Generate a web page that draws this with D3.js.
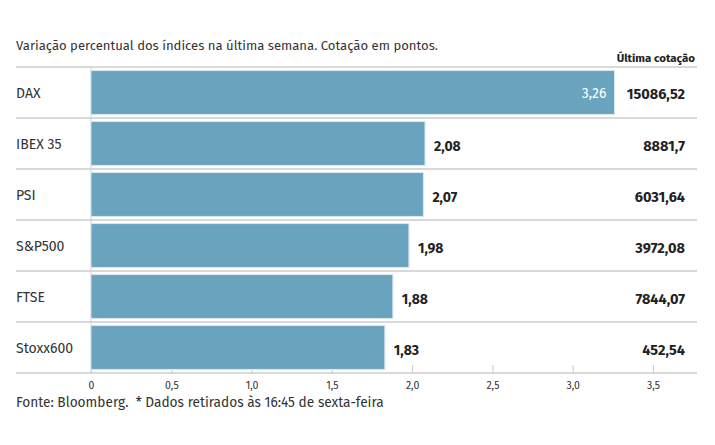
<!DOCTYPE html>
<html>
<head>
  <meta charset="utf-8">
  <script src="https://cdn.jsdelivr.net/npm/d3@7"></script>
  <style>
    body { margin: 0; background: #fff; }
    svg text { font-family: "Fira Sans", "Noto Sans", sans-serif; }
  </style>
</head>
<body>
<div id="chart"></div>
<script>
  var indices = ['DAX', 'IBEX 35', 'PSI', 'S&P500', 'FTSE', 'Stoxx600'];
  var variacao = [3.26, 2.08, 2.07, 1.98, 1.88, 1.83];
  var cotacao = ['15086,52', '8881,7', '6031,64', '3972,08', '7844,07', '452,54'];
  var ticks = [0, 0.5, 1.0, 1.5, 2.0, 2.5, 3.0, 3.5];

  var width = 715, height = 445;
  var fmt = function(v){ return d3.format('.2f')(v).replace('.', ','); };
  var tickFmt = function(v){ return v === 0 ? '0' : d3.format('.1f')(v).replace('.', ','); };

  var svg = d3.select('#chart').append('svg')
    .attr('width', width).attr('height', height);

  var x = d3.scaleLinear().domain([0, 3.5]).range([91, 653]);
  var y = d3.scaleBand().domain(indices).range([67, 373]).paddingInner(0.14).paddingOuter(0.07);
  var step = y.step();

  // title
  svg.append('text').attr('x', 16).attr('y', 50)
    .style('font-size', '13.1px').style('fill', '#333')
    .text('Variação percentual dos índices na última semana. Cotação em pontos.');

  svg.append('text').attr('x', 695).attr('y', 62).attr('text-anchor', 'end')
    .style('font-size', '11.5px').style('font-weight', 'bold').style('fill', '#222')
    .text('Última cotação');

  // row separators
  svg.selectAll('line.sep').data(d3.range(indices.length))
    .enter().append('line')
    .attr('x1', 16).attr('x2', 697)
    .attr('y1', function(i){ return 67 + i * step; })
    .attr('y2', function(i){ return 67 + i * step; })
    .style('stroke', '#ccc').style('stroke-width', 1.5);

  // zero line
  svg.append('line').attr('x1', x(0)).attr('x2', x(0)).attr('y1', 67).attr('y2', 373)
    .style('stroke', '#ccc');

  // axis
  var axis = svg.append('g').attr('transform', 'translate(0,373)')
    .call(d3.axisBottom(x).tickValues(ticks).tickFormat(tickFmt).tickSize(0).tickPadding(9));
  axis.select('.domain').remove();
  axis.selectAll('text').style('font-size', '10.5px').style('fill', '#333')
    .style('font-family', '"Fira Sans", "Noto Sans", sans-serif');
  axis.selectAll('.tick').append('line').attr('y1', -8).attr('y2', 0).style('stroke', '#ccc');
  svg.append('line').attr('x1', 16).attr('x2', 697).attr('y1', 373).attr('y2', 373)
    .style('stroke', '#ccc').style('stroke-width', 1.5);

  // bars
  var rows = svg.selectAll('g.row').data(indices).enter().append('g');

  rows.append('rect')
    .attr('x', x(0))
    .attr('y', function(d){ return y(d); })
    .attr('width', function(d, i){ return x(variacao[i]) - x(0); })
    .attr('height', y.bandwidth())
    .style('fill', '#6aa3be')
    .style('stroke', '#d8e8ef').style('stroke-width', 1);

  rows.append('text')
    .attr('x', 16)
    .attr('y', function(d){ return y(d) + y.bandwidth() / 2 + 1; })
    .attr('dy', '0.35em')
    .style('font-size', '14px').style('fill', '#333')
    .text(function(d){ return d; });

  rows.append('text')
    .attr('x', function(d, i){ return i === 0 ? x(variacao[i]) - 8 : x(variacao[i]) + 9; })
    .attr('y', function(d, i){ return y(d) + y.bandwidth() / 2 + (i === 0 ? 1 : 3); })
    .attr('dy', '0.35em')
    .attr('text-anchor', function(d, i){ return i === 0 ? 'end' : 'start'; })
    .style('font-size', '14px')
    .style('font-weight', function(d, i){ return i === 0 ? 'normal' : 'bold'; })
    .style('fill', function(d, i){ return i === 0 ? '#fff' : '#222'; })
    .text(function(d, i){ return fmt(variacao[i]); });

  rows.append('text')
    .attr('x', 685)
    .attr('y', function(d, i){ return y(d) + y.bandwidth() / 2 + (i === 0 ? 1 : 2); })
    .attr('dy', '0.35em')
    .attr('text-anchor', 'end')
    .style('font-size', '14.5px').style('font-weight', 'bold').style('fill', '#222')
    .text(function(d, i){ return cotacao[i]; });

  // footer
  svg.append('text').attr('x', 16).attr('y', 407)
    .style('font-size', '13.7px').style('fill', '#333')
    .style('white-space', 'pre')
    .text('Fonte: Bloomberg.  * Dados retirados às 16:45 de sexta-feira');
</script>
</body>
</html>
